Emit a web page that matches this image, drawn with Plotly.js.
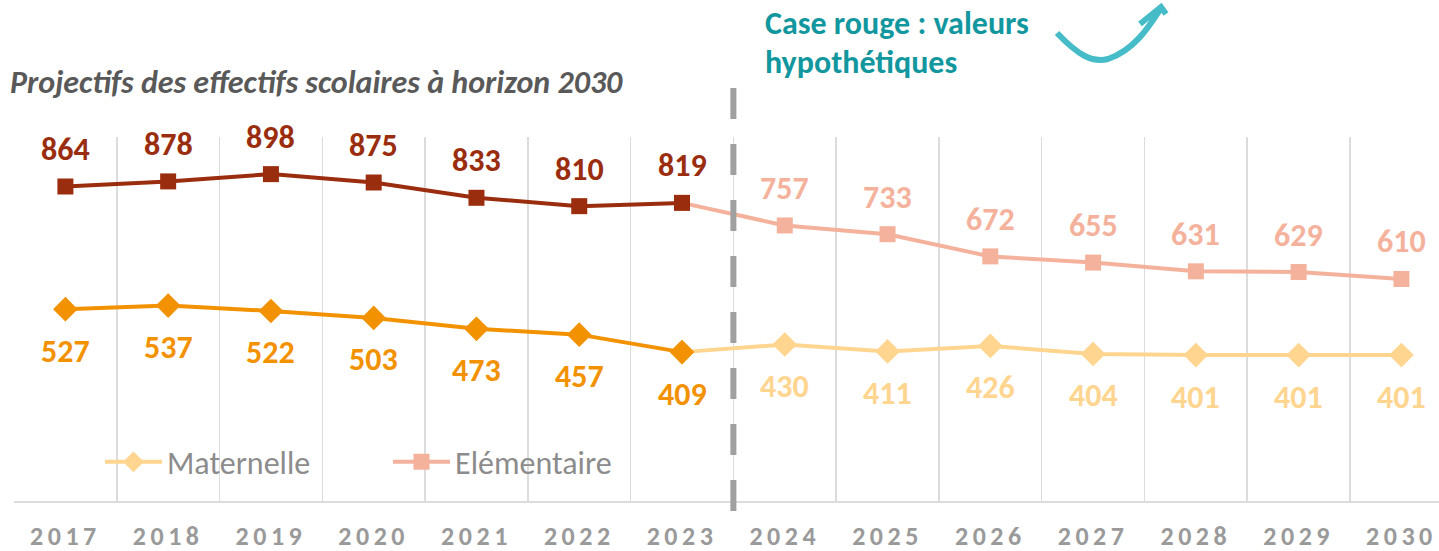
<!DOCTYPE html>
<html>
<head>
<meta charset="utf-8">
<script src="https://cdn.plot.ly/plotly-3.0.1.min.js"></script>
<style>
  html, body { margin: 0; padding: 0; background: #fff; }
  #chart { width: 1439px; height: 551px; }
  .xtick text { letter-spacing: 4.5px; }
</style>
</head>
<body>
<div id="chart"></div>
<script>
// ---- Data ----
const years = ["2017","2018","2019","2020","2021","2022","2023","2024","2025","2026","2027","2028","2029","2030"];
const elementaire = [864, 878, 898, 875, 833, 810, 819, 757, 733, 672, 655, 631, 629, 610];
const maternelle  = [527, 537, 522, 503, 473, 457, 409, 430, 411, 426, 404, 401, 401, 401];
const lastObserved = "2023";
const seriesNames = ["Maternelle", "Elémentaire"];
const titleText = "Projectifs des effectifs scolaires à horizon 2030";
const noteLines = ["Case rouge : valeurs", "hypothétiques"];

// ---- Styles ----
const FONT = "Carlito, 'Liberation Sans Narrow', 'Open Sans', sans-serif";
const C = {
  elemDark: "#9B2D0F", elemLight: "#F4B29C",
  matDark: "#F39200", matLight: "#FFD590",
  teal: "#13979F", arrow: "#45BCC8",
  grid: "#DCDCDC", tick: "#9A9A9A", title: "#595959", legend: "#8C8C8C", dash: "#A0A0A0"
};

const cut = years.indexOf(lastObserved);
const pastX = years.slice(0, cut + 1), futX = years.slice(cut);

const traces = [
  { name: seriesNames[0], x: futX, y: maternelle.slice(cut), mode: "lines+markers",
    line: { color: C.matLight, width: 4 }, marker: { symbol: "diamond", size: 19, color: C.matLight }, hoverinfo: "skip" },
  { name: seriesNames[1], x: futX, y: elementaire.slice(cut), mode: "lines+markers",
    line: { color: C.elemLight, width: 4 }, marker: { symbol: "square", size: 16, color: C.elemLight }, hoverinfo: "skip" },
  { name: seriesNames[0], x: pastX, y: maternelle.slice(0, cut + 1), mode: "lines+markers", showlegend: false,
    line: { color: C.matDark, width: 4 }, marker: { symbol: "diamond", size: 19, color: C.matDark }, hoverinfo: "skip" },
  { name: seriesNames[1], x: pastX, y: elementaire.slice(0, cut + 1), mode: "lines+markers", showlegend: false,
    line: { color: C.elemDark, width: 4 }, marker: { symbol: "square", size: 16, color: C.elemDark }, hoverinfo: "skip" }
];

const annotations = [];
years.forEach((yr, i) => {
  const past = i <= cut;
  annotations.push({ x: i, y: elementaire[i], xref: "x", yref: "y", text: String(elementaire[i]),
    showarrow: false, yshift: 37, font: { family: FONT, size: 32, color: past ? C.elemDark : C.elemLight, weight: "bold" } });
  annotations.push({ x: i, y: maternelle[i], xref: "x", yref: "y", text: String(maternelle[i]),
    showarrow: false, yshift: -42, font: { family: FONT, size: 32, color: past ? C.matDark : C.matLight, weight: "bold" } });
});
// note text
const W = 1439, H = 551, ML = 14, MT = 137, MB = 50, PW = W - ML, PH = H - MT - MB;
const px = v => (v - ML) / PW;
const py = v => (H - MB - v) / PH;
annotations.push({ xref: "paper", yref: "paper", x: px(763), y: py(23), xanchor: "left", yanchor: "middle",
  text: noteLines[0], showarrow: false, font: { family: FONT, size: 32, color: C.teal, weight: "bold" } });
annotations.push({ xref: "paper", yref: "paper", x: px(763), y: py(62), xanchor: "left", yanchor: "middle",
  text: noteLines[1], showarrow: false, font: { family: FONT, size: 32, color: C.teal, weight: "bold" } });

function P(x, y) { return px(x).toFixed(5) + "," + py(y).toFixed(5); }
const arrowPath = "M" + P(1057, 33) + " C" + P(1078, 55) + " " + P(1092, 63) + " " + P(1108, 59) +
  " C" + P(1135, 50) + " " + P(1150, 25) + " " + P(1161, 8);
const arrowHead = "M" + P(1140, 24) + " L" + P(1161, 7) + " L" + P(1166, 14);

const layout = {
  width: W, height: H,
  margin: { l: ML, r: 0, t: MT, b: MB, pad: 0 },
  paper_bgcolor: "#fff", plot_bgcolor: "#fff",
  title: { text: titleText, xref: "container", yref: "container", x: 10 / W, xanchor: "left",
    y: 1 - 82 / H, yanchor: "middle",
    font: { family: FONT, size: 32, color: C.title, weight: "bold", style: "italic" } },
  xaxis: { type: "category", categoryarray: years, range: [-0.5, -0.5 + PW / 102.77],
    tickson: "boundaries", showgrid: true, gridcolor: C.grid, gridwidth: 1.5,
    showline: true, linecolor: C.grid, linewidth: 2, ticks: "", ticklabelstandoff: 11,
    tickfont: { family: FONT, size: 26, color: C.tick, weight: "bold" }, zeroline: false, fixedrange: true },
  yaxis: { range: [0, 1000], showgrid: false, zeroline: false, showticklabels: false, showline: false, fixedrange: true },
  showlegend: true,
  legend: { orientation: "h", x: px(100), xanchor: "left", y: py(462), yanchor: "middle",
    bgcolor: "rgba(0,0,0,0)", font: { family: FONT, size: 32, color: C.legend }, entrywidth: 216, itemwidth: 57 },
  shapes: [
    { type: "line", xref: "x", yref: "paper", x0: 6.5, x1: 6.5, y0: py(88), y1: py(511),
      line: { color: C.dash, width: 6, dash: "31px,25px" } },
    { type: "path", xref: "paper", yref: "paper", path: arrowPath, line: { color: C.arrow, width: 6 } },
    { type: "path", xref: "paper", yref: "paper", path: arrowHead, line: { color: C.arrow, width: 6 } }
  ],
  annotations: annotations
};

Plotly.newPlot("chart", traces, layout, { displayModeBar: false, staticPlot: true });
</script>
</body>
</html>
